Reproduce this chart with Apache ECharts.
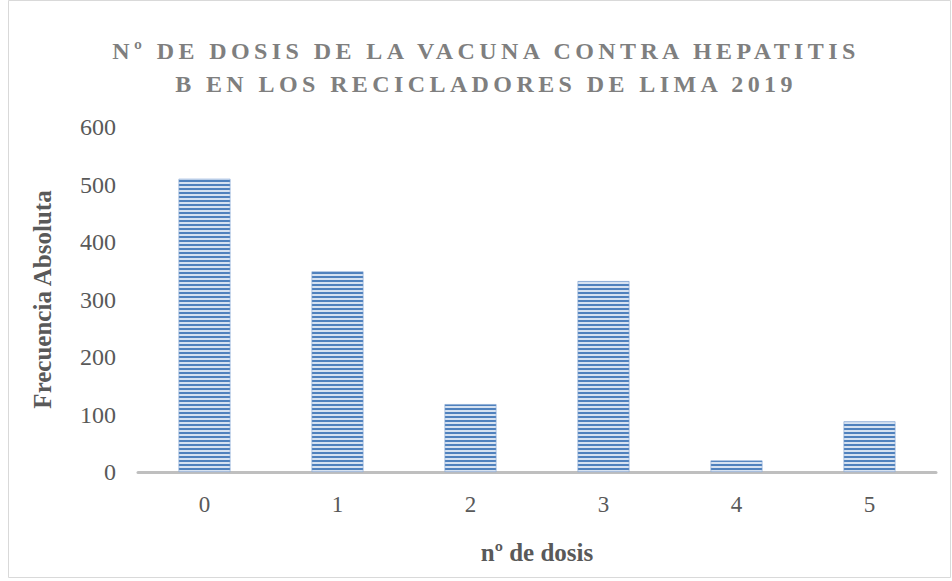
<!DOCTYPE html>
<html>
<head>
<meta charset="utf-8">
<script src="https://cdn.jsdelivr.net/npm/echarts@6/dist/echarts.min.js"></script>
<style>
  html, body { margin: 0; padding: 0; background: #ffffff; }
  #chart { width: 952px; height: 581px; }
</style>
</head>
<body>
<div id="chart"></div>
<script>
// Number of hepatitis B vaccine doses (categories) and absolute frequency
const doses = ['0', '1', '2', '3', '4', '5'];
const frequency = [510, 349, 118, 332, 20, 88];
const yTicks = { min: 0, max: 600, interval: 100 };

const titleLines = ['Nº DE DOSIS DE LA VACUNA CONTRA HEPATITIS', 'B EN LOS RECICLADORES DE LIMA 2019'];
const xName = 'nº de dosis';
const yName = 'Frecuencia Absoluta';

const SERIF = '"Liberation Serif", "DejaVu Serif", serif';

// Horizontal stripe fill for the bars
function stripeImage() {
  const c = document.createElement('canvas');
  c.width = 4; c.height = 4;
  const ctx = c.getContext('2d');
  ctx.fillStyle = '#d6e2f1';
  ctx.fillRect(0, 0, 4, 4);
  ctx.fillStyle = '#4f81bd';
  ctx.fillRect(0, 0, 4, 2);
  return c.toDataURL();
}

const chart = echarts.init(document.getElementById('chart'), null, { renderer: 'svg' });

chart.setOption({
  animation: false,
  backgroundColor: '#ffffff',
  title: {
    text: titleLines.join('\n'),
    left: 481,
    textAlign: 'center',
    top: 29,
    textStyle: {
      fontFamily: SERIF,
      fontWeight: 'bold',
      fontSize: 24,
      color: '#7f7f7f',
      lineHeight: 33
    }
  },
  graphic: [{
    type: 'rect',
    shape: { x: 8.5, y: 0.5, width: 942, height: 577 },
    style: { fill: 'none', stroke: '#d9d9d9', lineWidth: 1 },
    silent: true
  }],
  grid: { left: 138, right: 16, top: 127, bottom: 109, containLabel: false },
  xAxis: {
    type: 'category',
    data: doses,
    name: xName,
    nameLocation: 'middle',
    nameGap: 68,
    nameTextStyle: { fontFamily: SERIF, fontWeight: 'bold', fontSize: 25, color: '#595959' },
    axisLine: { show: true, lineStyle: { color: '#bfbfbf', width: 3 } },
    axisTick: { show: false },
    axisLabel: { fontFamily: SERIF, fontSize: 23, color: '#595959', margin: 21 }
  },
  yAxis: {
    type: 'value',
    min: yTicks.min,
    max: yTicks.max,
    interval: yTicks.interval,
    name: yName,
    nameLocation: 'middle',
    nameRotate: 90,
    nameGap: 83,
    nameTextStyle: { fontFamily: SERIF, fontWeight: 'bold', fontSize: 25, color: '#595959' },
    axisLine: { show: false },
    axisTick: { show: false },
    splitLine: { show: false },
    axisLabel: { fontFamily: SERIF, fontSize: 24, color: '#595959', margin: 22 }
  },
  series: [{
    type: 'bar',
    data: frequency,
    barWidth: '39%',
    itemStyle: {
      color: { image: stripeImage(), repeat: 'repeat' },
      borderColor: '#7fa3d3',
      borderWidth: 0.6
    }
  }]
});

// Spread the title letters apart
function spaceTitle() {
  document.querySelectorAll('#chart svg text').forEach(function (t) {
    if (titleLines.indexOf(t.textContent) !== -1) {
      t.setAttribute('letter-spacing', '4.4');
    }
  });
}
spaceTitle();
chart.on('finished', spaceTitle);
</script>
</body>
</html>
